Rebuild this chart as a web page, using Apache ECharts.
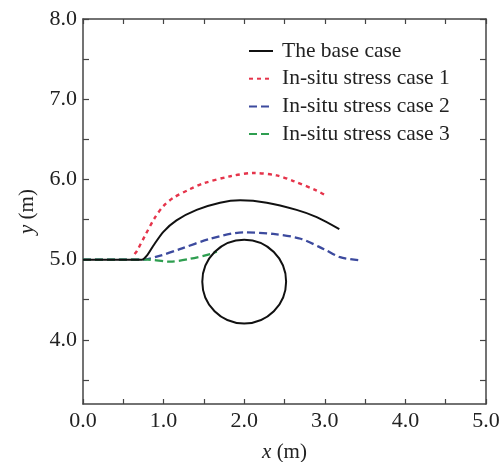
<!DOCTYPE html>
<html><head><meta charset="utf-8">
<script src="https://cdn.jsdelivr.net/npm/echarts@6/dist/echarts.min.js"></script>
<style>html,body{margin:0;padding:0;background:#fff}#c{width:501px;height:462px}</style>
</head><body><div id="c"></div>
<script>
var seriesNames = ['The base case', 'In-situ stress case 1', 'In-situ stress case 2', 'In-situ stress case 3'];
var baseX = [0, 0.4, 0.73, 0.8, 0.87, 1.0, 1.16, 1.41, 1.7, 1.95, 2.28, 2.65, 2.9, 3.18];
var baseY = [5.0, 5.0, 5.0, 5.06, 5.17, 5.35, 5.49, 5.62, 5.71, 5.74, 5.71, 5.62, 5.53, 5.38];
var case1X = [0.64, 0.67, 0.77, 0.89, 1.0, 1.12, 1.33, 1.49, 1.83, 2.12, 2.40, 2.61, 2.9, 3.03];
var case1Y = [5.07, 5.11, 5.30, 5.52, 5.67, 5.77, 5.88, 5.95, 6.04, 6.08, 6.05, 5.98, 5.86, 5.79];
var case2X = [0, 0.4, 0.73, 0.96, 1.2, 1.58, 1.99, 2.36, 2.70, 2.99, 3.19, 3.44];
var case2Y = [5.0, 5.0, 5.0, 5.05, 5.13, 5.26, 5.34, 5.32, 5.26, 5.13, 5.03, 4.99];
var case3X = [0, 0.5, 0.8, 1.08, 1.33, 1.58, 1.66];
var case3Y = [5.0, 5.0, 5.0, 4.975, 5.01, 5.07, 5.10];
var circleCenter = [2.0, 4.725];
var circleRadius = 0.52;
var xTicks = [0, 0.5, 1, 1.5, 2, 2.5, 3, 3.5, 4, 4.5, 5];
var xLabels = [0, 1, 2, 3, 4, 5];
var yTicks = [3.5, 4, 4.5, 5, 5.5, 6, 6.5, 7, 7.5, 8];
var yLabels = [4, 5, 6, 7, 8];

function zip(xs, ys){ return xs.map(function(x,i){ return [x, ys[i]]; }); }

var serif = 'Liberation Serif';
var axisColor = '#444';
var labelStyle = {fontFamily: serif, fontSize: 22, color: '#222'};
var nameStyle = {fontFamily: serif, fontSize: 21, color: '#222', rich: {i: {fontFamily: serif, fontStyle: 'italic', fontSize: 21, color: '#222'}}};

function mkX(pos, show){
  return {
    type: 'value', position: pos, min: 0, max: 5,
    axisLine: {show: true, onZero: false, lineStyle: {color: axisColor, width: 1.5}},
    axisTick: {show: true, inside: true, length: 5, customValues: xTicks, lineStyle: {color: axisColor, width: 1.2}},
    axisLabel: Object.assign({show: show, margin: 6, customValues: xLabels, formatter: function(v){ return v.toFixed(1); }}, labelStyle),
    splitLine: {show: false},
    name: show ? '{i|x} (m)' : '', nameLocation: 'middle', nameGap: 38,
    nameTextStyle: nameStyle
  };
}
function mkY(pos, show){
  return {
    type: 'value', position: pos, min: 3.2, max: 8,
    axisLine: {show: true, onZero: false, lineStyle: {color: axisColor, width: 1.5}},
    axisTick: {show: true, inside: true, length: 6, customValues: yTicks, lineStyle: {color: axisColor, width: 1.2}},
    axisLabel: Object.assign({show: show, margin: 6, customValues: yLabels, formatter: function(v){ return v.toFixed(1); }}, labelStyle),
    splitLine: {show: false},
    name: show ? '{i|y} (m)' : '', nameLocation: 'middle', nameGap: 45,
    nameTextStyle: nameStyle
  };
}

var chart = echarts.init(document.getElementById('c'), null, {renderer: 'canvas'});
chart.setOption({
  animation: false,
  backgroundColor: '#fff',
  grid: {left: 83, right: 15, top: 19, bottom: 58, outerBoundsMode: 'none', containLabel: false},
  xAxis: [mkX('bottom', true), mkX('top', false)],
  yAxis: [mkY('left', true), mkY('right', false)],
  legend: {
    data: seriesNames, orient: 'vertical', left: 243, top: 35,
    itemWidth: 24, itemHeight: 12, itemGap: 5.7,
    itemStyle: {opacity: 0},
    textStyle: {fontFamily: serif, fontSize: 21.5, color: '#222', padding: [0, 0, 0, 4]}
  },
  series: [
    {name: seriesNames[0], type: 'line', data: zip(baseX, baseY), symbol: 'none', smooth: 0.3,
     lineStyle: {color: '#111', width: 2}, itemStyle: {color: '#111'}, z: 4},
    {name: seriesNames[1], type: 'line', data: zip(case1X, case1Y), symbol: 'none', smooth: 0.3,
     lineStyle: {color: '#e5344b', width: 2.4, type: [4, 4]}, itemStyle: {color: '#e5344b'}},
    {name: seriesNames[2], type: 'line', data: zip(case2X, case2Y), symbol: 'none', smooth: 0.3,
     lineStyle: {color: '#3c4a9e', width: 2.3, type: [8, 4]}, itemStyle: {color: '#3c4a9e'}},
    {name: seriesNames[3], type: 'line', data: zip(case3X, case3Y), symbol: 'none', smooth: 0.3,
     lineStyle: {color: '#2e9e50', width: 2.3, type: [8, 4]}, itemStyle: {color: '#2e9e50'}},
    {type: 'custom', data: [[circleCenter[0], circleCenter[1], circleRadius]], silent: true, z: 5,
     renderItem: function(params, api){
       var c = api.coord([api.value(0), api.value(1)]);
       var r = api.size([api.value(2), 0])[0];
       return {type: 'circle', shape: {cx: c[0], cy: c[1], r: r},
               style: {fill: 'none', stroke: '#111', lineWidth: 2}};
     }}
  ]
});
</script></body></html>
